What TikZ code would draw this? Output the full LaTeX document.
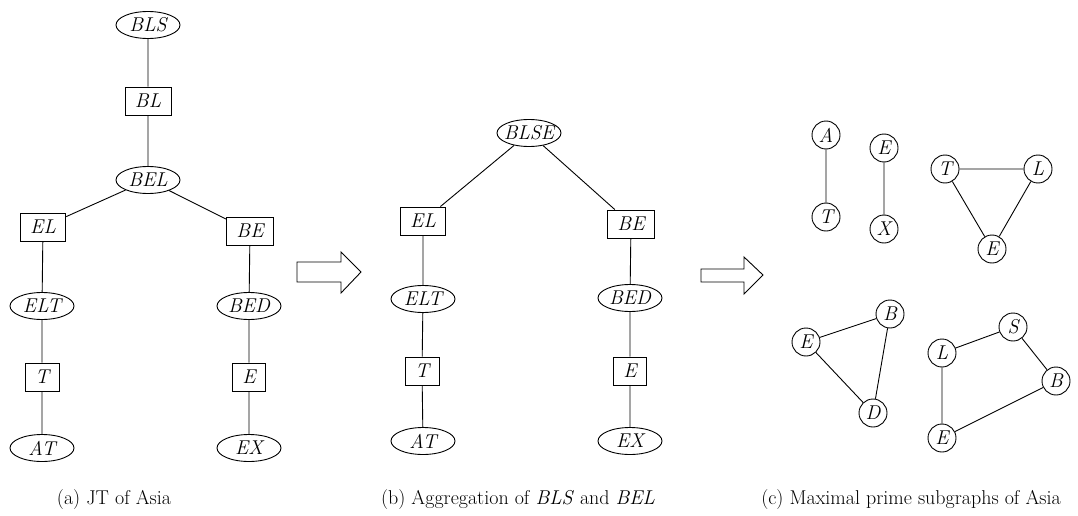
\documentclass[tikz,border=0pt]{standalone}
\usetikzlibrary{shapes.geometric}
\newcommand{\zb}[1]{\makebox[0pt]{#1}}
\begin{document}
\begin{tikzpicture}[x=1pt,y=-1pt,
  lbl/.style={font=\fontsize{20}{22}\selectfont\itshape},
  sep/.style={lbl,draw,line width=0.9pt,rectangle,minimum height=28pt,minimum width=29pt,inner xsep=10pt,inner ysep=0pt},
  clq/.style={lbl,draw,line width=0.9pt,ellipse,minimum width=64pt,minimum height=27pt,inner sep=0pt},
  vtx/.style={lbl,draw,line width=0.9pt,circle,minimum size=28pt,inner sep=0pt},
  edge/.style={line width=0.9pt},
  captxt/.style={font=\fontsize{20}{22}\selectfont}]
\useasboundingbox (0,0) rectangle (1078,516);
% (a)
\node[clq] (a1) at (148,25) {\zb{BLS}};
\node[sep] (a2) at (148,101) {BL};
\node[clq] (a3) at (148,180) {\zb{BEL}};
\node[sep] (a4) at (43,227) {EL};
\node[sep] (a5) at (250,231) {BE};
\node[clq] (a6) at (42,306) {\zb{ELT}};
\node[clq] (a7) at (249,306) {\zb{BED}};
\node[sep] (a8) at (42,377) {T};
\node[sep] (a9) at (249,377) {E};
\node[clq] (a10) at (42,448) {\zb{AT}};
\node[clq] (a11) at (249,448) {\zb{EX}};
\draw[edge] (a1)--(a2) (a2)--(a3) (a3)--(a4) (a3)--(a5) (a4)--(a6) (a5)--(a7)
  (a6)--(a8) (a8)--(a10) (a7)--(a9) (a9)--(a11);
\node[captxt] (capa) at (114,500) {(a) JT of Asia};
% arrow 1
\draw[line width=0.9pt] (297,262)--(341,262)--(341,252)--(361,272)--(341,293)--(341,282)--(297,282)--cycle;
% (b)
\node[clq] (b1) at (529,133) {\zb{BLSE}};
\node[sep] (b2) at (423,221) {EL};
\node[sep] (b3) at (631,224) {BE};
\node[clq] (b4) at (423,299) {\zb{ELT}};
\node[clq] (b5) at (630,298) {\zb{BED}};
\node[sep] (b6) at (422,371) {T};
\node[sep] (b7) at (630,371) {E};
\node[clq] (b8) at (423,441) {\zb{AT}};
\node[clq] (b9) at (630,441) {\zb{EX}};
\draw[edge] (b1)--(b2) (b1)--(b3) (b2)--(b4) (b3)--(b5) (b4)--(b6) (b6)--(b8) (b5)--(b7) (b7)--(b9);
\node[captxt] (capb) at (518,500) {(b) Aggregation of \textit{BLS} and \textit{BEL}};
% arrow 2
\draw[line width=0.9pt] (701,269)--(744,269)--(744,257)--(763,275)--(744,294)--(744,282)--(701,282)--cycle;
% (c)
\node[vtx] (cA) at (826,135) {A};
\node[vtx] (cT) at (826,217) {T};
\node[vtx] (cE) at (884,148) {E};
\node[vtx] (cX) at (884,229) {X};
\node[vtx] (cT2) at (945,169) {T};
\node[vtx] (cL) at (1038,169) {L};
\node[vtx] (cE2) at (992,249) {E};
\node[vtx] (cE3) at (806,342) {E};
\node[vtx] (cB) at (890,314) {B};
\node[vtx] (cD) at (873,413) {D};
\node[vtx] (cL2) at (942,353) {L};
\node[vtx] (cS) at (1013,327) {S};
\node[vtx] (cB2) at (1056,381) {B};
\node[vtx] (cE4) at (942,438) {E};
\draw[edge] (cA)--(cT) (cE)--(cX) (cT2)--(cL) (cL)--(cE2) (cE2)--(cT2)
  (cE3)--(cB) (cB)--(cD) (cD)--(cE3)
  (cL2)--(cS) (cS)--(cB2) (cB2)--(cE4) (cE4)--(cL2);
\node[captxt] (capc) at (911,500) {(c) Maximal prime subgraphs of Asia};
\end{tikzpicture}
\end{document}
